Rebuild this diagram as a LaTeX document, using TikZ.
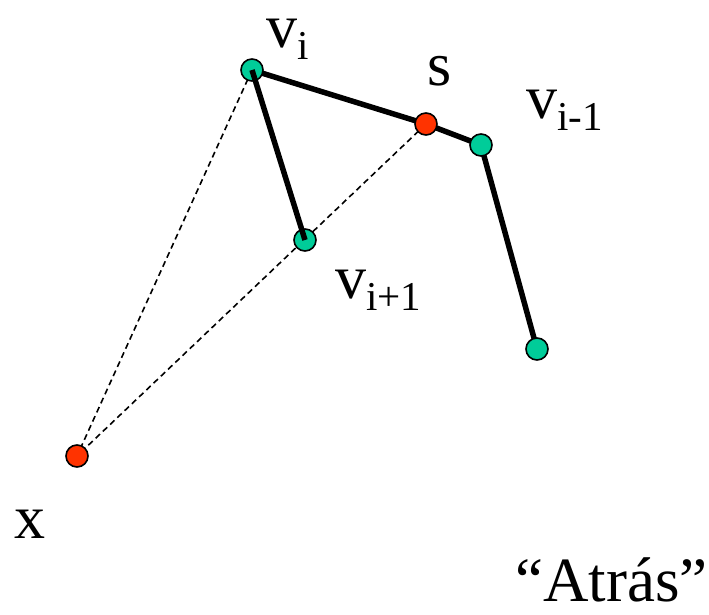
\documentclass[tikz,border=0pt]{standalone}
\usepackage{fontspec}
\setmainfont{Liberation Serif}
\usepackage{tikz}

\newcommand{\vsub}[1]{v\raisebox{-12pt}{\fontsize{41}{43}\selectfont #1}}

\definecolor{vgreen}{RGB}{0,204,153}
\definecolor{pred}{RGB}{255,51,0}
\tikzset{
 vert/.style={circle,draw=black,line width=1.6pt,fill=vgreen,inner sep=0pt,minimum size=22pt},
 pnt/.style={vert,fill=pred},
 edge/.style={black,line width=5.5pt},
 aux/.style={black,line width=1.6pt,dash pattern=on 6pt off 4pt},
 lbl/.style={inner sep=0pt,anchor=base west,font=\fontsize{62}{64}\selectfont}
}

\begin{document}
\begin{tikzpicture}[x=1pt,y=-1pt]
 \useasboundingbox (0,0) rectangle (709,614);
% points, placed first so the lines can refer to them
 \coordinate (vi) at (252,70);
 \coordinate (s) at (426,124);
 \coordinate (vim) at (481,145);
 \coordinate (vip) at (305,240);
 \coordinate (vend) at (537,349);
 \coordinate (x) at (77,456);
% dashed lines to x
 \draw[aux] (vi)--(x);
 \draw[aux] (s)--(x);
% chain
 \draw[edge] (vi)--(s)--(vim)--(vend);
% dots
 \node[vert] (nvi) at (vi) {};
 \node[pnt] (ns) at (s) {};
 \node[vert] (nvim) at (vim) {};
 \node[vert] (nvip) at (vip) {};
 \node[vert] (nvend) at (vend) {};
 \node[pnt] (nx) at (x) {};
 \draw[edge] (nvi.center)--(nvip.center);
% labels
 \node[lbl] (lvi) at (266,47) {\vsub{i}};
 \node[lbl] (ls) at (427,85) {s};
 \node[lbl] (lvim) at (526,118) {\vsub{i-1}};
 \node[lbl] (lvip) at (335,298) {\vsub{i+1}};
 \node[lbl] (lx) at (14,538) {x};
 \node[inner sep=0pt,anchor=base east,font=\fontsize{63}{65}\selectfont] (atras) at (708,601) {``Atrás''};
\end{tikzpicture}
\end{document}
